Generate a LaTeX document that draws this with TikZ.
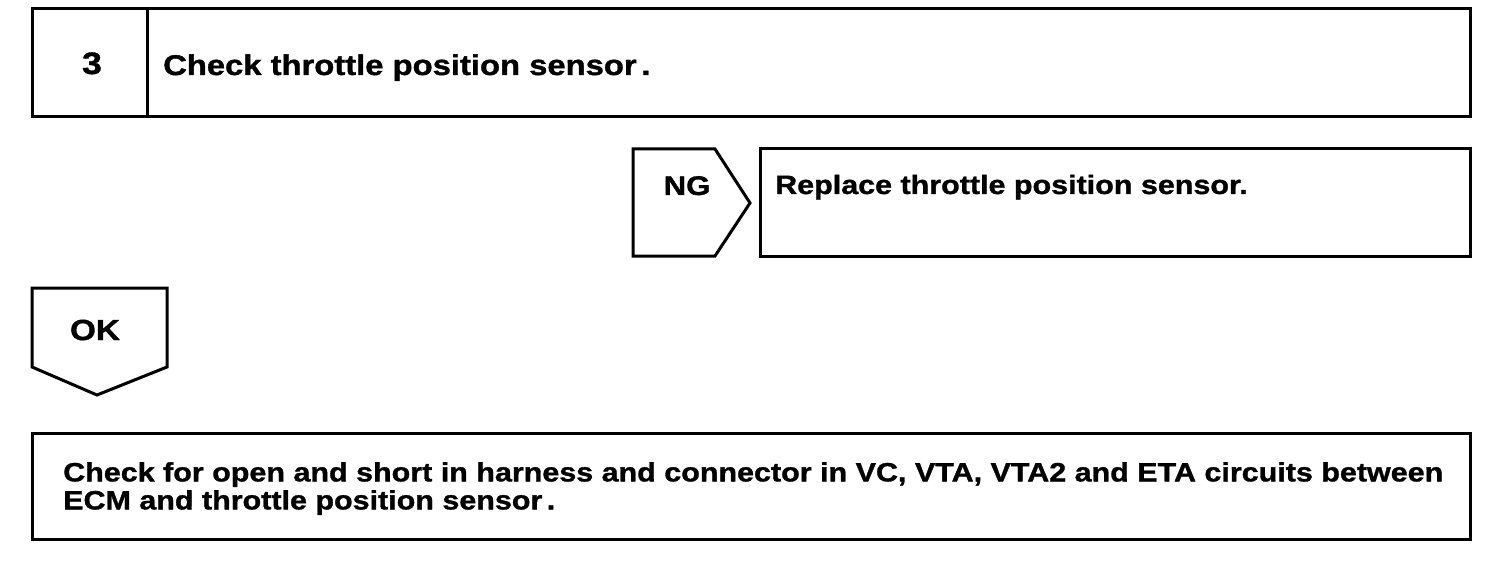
\documentclass[tikz,border=0pt]{standalone}
\usepackage{fontspec}
\setmainfont{Liberation Sans}[FakeStretch=1.15, BoldFeatures={FakeBold=1.2}]
\usepackage{tikz}

\begin{document}
\begin{tikzpicture}[x=1pt, y=-1pt,
    outline/.style={draw, line width=3pt, line join=miter},
    txt/.style={inner sep=0pt, anchor=base west}]
  \useasboundingbox (0,0) rectangle (1504,564);

  \draw[outline] (32,9) rectangle (1470,117);
  \draw[outline] (147,9) -- (147,117);
  \draw[outline] (633,149) -- (715,149) -- (750,203) -- (715,256) -- (633,256) -- cycle;
  \draw[outline] (760,149) rectangle (1470,256);
  \draw[outline] (32,288) -- (167,288) -- (167,367) -- (97,395) -- (32,367) -- cycle;
  \draw[outline] (32,433) rectangle (1470,539);

  \node[txt, anchor=base, font=\fontsize{31}{31}\selectfont\bfseries] (step) at (92,74) {3};
  \node[txt, font=\fontsize{28.5}{28.5}\selectfont\bfseries] (title) at (163,75) {Check throttle position sensor\,.};
  \node[txt, anchor=base, font=\fontsize{27}{27}\selectfont\bfseries] (ng) at (687,195) {NG};
  \node[txt, font=\fontsize{26.5}{26.5}\selectfont\bfseries] (replace) at (775,194) {Replace throttle position sensor.};
  \node[txt, anchor=base, font=\fontsize{29}{29}\selectfont\bfseries] (ok) at (95,340) {OK};
  \node[txt, anchor=north west, align=left, font=\fontsize{26.5}{28}\selectfont\bfseries] (harness) at (63,462)
    {Check for open and short in harness and connector in VC, VTA, VTA2 and ETA circuits between\\
     ECM and throttle position sensor\,.};
\end{tikzpicture}
\end{document}
